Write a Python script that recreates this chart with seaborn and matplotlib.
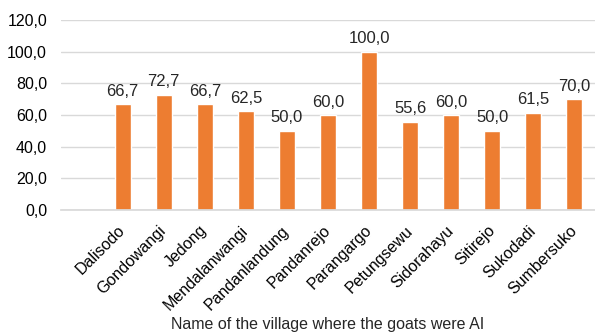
import matplotlib
matplotlib.use("Agg")
import matplotlib.pyplot as plt
import seaborn as sns
import pandas as pd
from matplotlib.ticker import FuncFormatter

villages = ["Dalisodo", "Gondowangi", "Jedong", "Mendalanwangi", "Pandanlandung",
            "Pandanrejo", "Parangargo", "Petungsewu", "Sidorahayu", "Sitirejo",
            "Sukodadi", "Sumbersuko"]
values = [66.7, 72.7, 66.7, 62.5, 50.0, 60.0, 100.0, 55.6, 60.0, 50.0, 61.5, 70.0]

df = pd.DataFrame({"village": villages, "value": values})

sns.set_theme(style="white")
plt.rcParams["font.family"] = ["Liberation Sans", "DejaVu Sans"]

fig = plt.figure(figsize=(5.95, 3.34), dpi=100)
ax = fig.add_axes([0.1025, 0.371, 0.8975, 0.569])

sns.barplot(data=df, x="village", y="value", color="#ED7D31", width=0.39,
            saturation=1, ax=ax, order=villages)

# leave an empty slot before the first village
ax.set_xlim(-1.5, 11.5)
ax.set_ylim(0, 120)
ax.set_yticks(range(0, 121, 20))
ax.yaxis.set_major_formatter(FuncFormatter(lambda v, _: f"{v:.1f}".replace(".", ",")))
ax.grid(axis="y", color="#D9D9D9", linewidth=1)
ax.set_axisbelow(True)
for s in ["top", "right", "left"]:
    ax.spines[s].set_visible(False)
ax.spines["bottom"].set_color("#D9D9D9")
ax.tick_params(axis="y", length=0, labelsize=11.5, colors="#000000", pad=10)
ax.tick_params(axis="x", length=0, labelsize=11.5, colors="#000000", pad=13)

for lbl in ax.get_xticklabels():
    lbl.set_rotation(45)
    lbl.set_ha("right")
    lbl.set_va("center")
    lbl.set_rotation_mode("anchor")

ax.bar_label(ax.containers[0], labels=[f"{v:.1f}".replace(".", ",") for v in values],
             padding=4, fontsize=12)

ax.set_ylabel("")
ax.set_xlabel("")
fig.text(328 / 595, 1 - 325 / 334, "Name of the village where the goats were AI",
         ha="center", va="center", fontsize=11.5)

fig.savefig("out.png", dpi=100, facecolor="white")
